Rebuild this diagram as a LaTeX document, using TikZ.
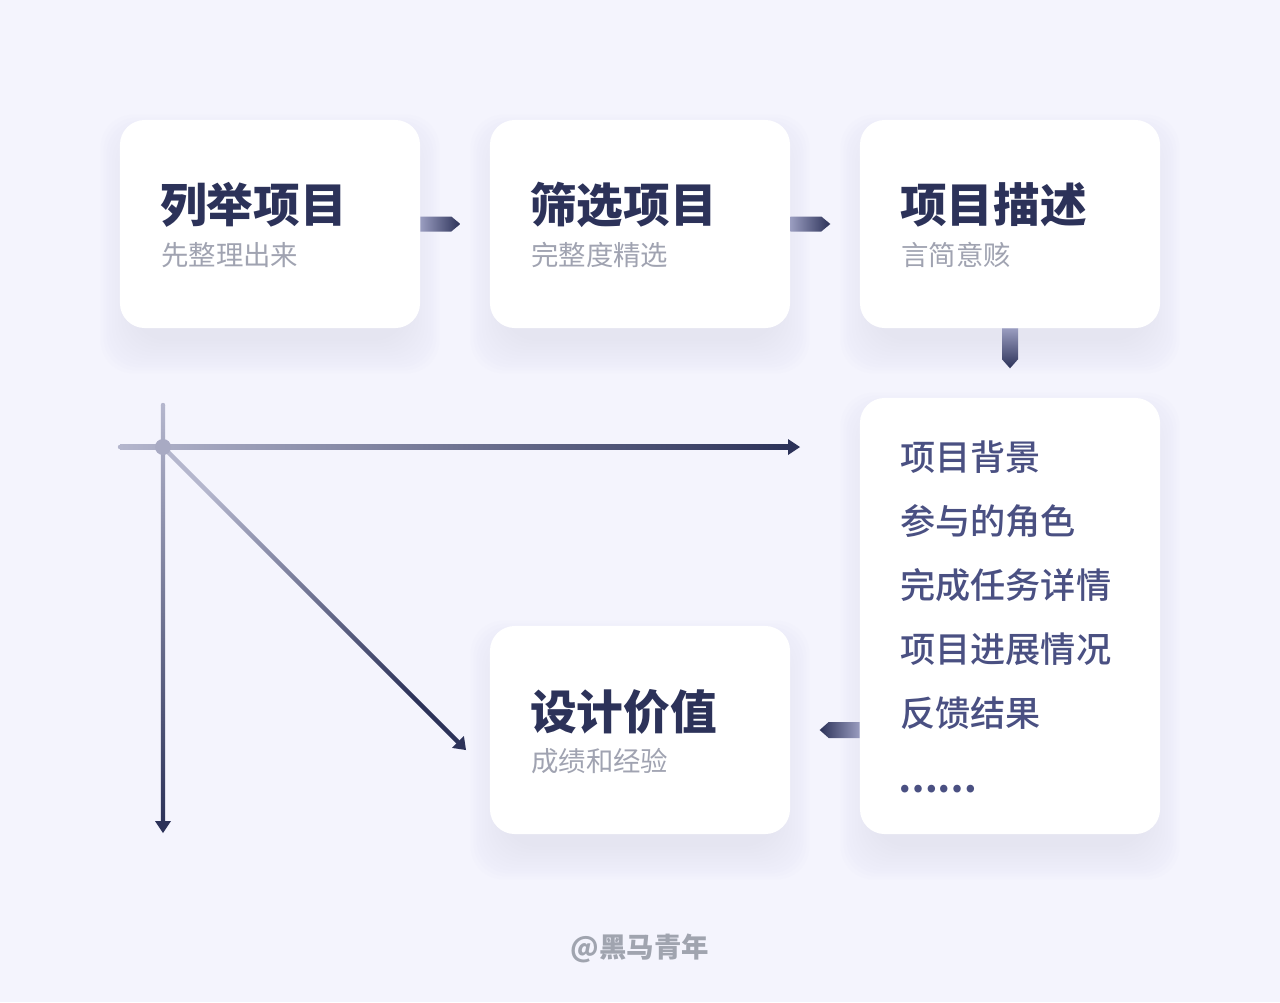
\documentclass[tikz,border=0pt]{standalone}
\usepackage{fontspec}
\setmainfont{Noto Sans CJK SC}
\newfontfamily\heavyfont{Noto Sans CJK SC Black}
\newfontfamily\medfont{Noto Sans CJK SC Medium}
\usetikzlibrary{arrows.meta,calc,backgrounds}
\definecolor{bgcol}{HTML}{F4F4FD}
\definecolor{navy}{HTML}{2C3259}
\definecolor{listcol}{HTML}{4A5082}
\definecolor{subgrey}{HTML}{A0A3B1}
\definecolor{lightline}{HTML}{B4B6CD}
\definecolor{fadecol}{HTML}{9A9DC0}
\definecolor{dotcol}{HTML}{A8AAC3}
\definecolor{shadowcol}{HTML}{C4C4E6}
\definecolor{markgrey}{HTML}{A0A4AF}

\tikzset{
  card/.style={fill=white, rounded corners=0.62cm, minimum width=7.5cm, minimum height=5.2cm, inner sep=0pt},
  tallcard/.style={card, minimum height=10.9cm},
  title/.style={anchor=west, inner sep=0pt, text=navy, font=\fontsize{33.2}{38}\selectfont\heavyfont},
  subtitle/.style={anchor=west, inner sep=0pt, text=subgrey, font=\fontsize{19.5}{24}\selectfont},
  item/.style={anchor=west, inner sep=0pt, text=listcol, font=\fontsize{25}{30}\selectfont\medfont},
}

\begin{document}
\begin{tikzpicture}[line cap=round,line join=round,x=0.025cm,y=-0.025cm]
  \useasboundingbox (0,0) rectangle (1280,1002);

  \node[card] (list) at (270,224) {};
  \node[card] (filter) at (640,224) {};
  \node[card] (describe) at (1010,224) {};
  \node[tallcard] (detail) at (1010,616) {};
  \node[card] (value) at (640,730) {};

  \begin{scope}[on background layer]
    \fill[bgcol] (0,0) rectangle (1280,1002);
    \foreach \n in {list,filter,describe,detail,value}
      \foreach \e in {-8,-5,...,25}
        \fill[shadowcol, opacity=0.022, rounded corners=0.8cm]
          ($(\n.north west)+(-\e+6,-\e+20)$) rectangle ($(\n.south east)+(\e-6,\e+20)$);
  \end{scope}

  \node[title] (t1) at (160,205) {列举项目};
  \node[subtitle] (s1) at (161,255) {先整理出来};
  \node[title] (t2) at (530,205) {筛选项目};
  \node[subtitle] (s2) at (531,255) {完整度精选};
  \node[title] (t3) at (900,205) {项目描述};
  \node[subtitle] (s3) at (901,255) {言简意赅};
  \node[title] (t5) at (530,712) {设计价值};
  \node[subtitle] (s5) at (531,761) {成绩和经验};

  \node[item] (i1) at (900,457) {项目背景};
  \node[item] (i2) at (900,521) {参与的角色};
  \node[item] (i3) at (900,585) {完成任务详情};
  \node[item] (i4) at (900,649) {项目进展情况};
  \node[item] (i5) at (900,713) {反馈结果};
  \node[item, font=\fontsize{25}{30}\selectfont\heavyfont] (i6) at (898,789) {……};

  \shade[left color=fadecol, right color=navy] ($(list.east)+(0,-7.5)$) -- ++(31,0) -- ++(9,7.5) -- ++(-9,7.5) -- ++(-31,0) -- cycle;
  \shade[left color=fadecol, right color=navy] ($(filter.east)+(0,-7.5)$) -- ++(31,0) -- ++(9,7.5) -- ++(-9,7.5) -- ++(-31,0) -- cycle;
  \shade[top color=fadecol, bottom color=navy] ($(describe.south)+(-8,0)$) -- ++(0,31) -- ++(8,9) -- ++(8,-9) -- ++(0,-31) -- cycle;
  \shade[left color=navy, right color=fadecol] ($(detail.west |- value.east)+(0,-8)$) -- ++(-31,0) -- ++(-9,8) -- ++(9,8) -- ++(31,0) -- cycle;

  \coordinate (O) at (163,447);
  \coordinate (xstart) at (120,447);
  \coordinate (ystart) at (163,405);
  \coordinate (xend) at (800,447);
  \coordinate (yend) at (163,833);
  \coordinate (dend) at (466,750);

  \shade[top color=lightline, bottom color=navy] ($(ystart)+(-2.2,0)$) rectangle ($(yend)+(2.2,-10)$);
  \fill[lightline] (ystart) circle (0.055cm);
  \fill[navy] (yend) -- ++(-8,-12) -- ++(16,0) -- cycle;

  \shade[left color=lightline, right color=navy] ($(xstart)+(0,-2.2)$) rectangle ($(xend)+(-10,2.2)$);
  \fill[lightline] (xstart) circle (0.055cm);
  \fill[navy] (xend) -- ++(-12,-8) -- ++(0,16) -- cycle;

  \shade[top color=lightline, bottom color=navy, shading angle=45]
    ($(O)+(1.6,-1.6)$) -- ($(dend)+(-6.2,-9.4)$) -- ($(dend)+(-9.4,-6.2)$) -- ($(O)+(-1.6,1.6)$) -- cycle;
  \fill[navy] (dend) -- ($(dend)+(-2.1,-14)$) -- ($(dend)+(-14,-2.1)$) -- cycle;

  \fill[dotcol] (O) circle (0.2cm);

  \node[inner sep=0pt, text=markgrey, font=\fontsize{19.5}{24}\selectfont\bfseries] (mark) at (640,948) {@黑马青年};
\end{tikzpicture}
\end{document}
